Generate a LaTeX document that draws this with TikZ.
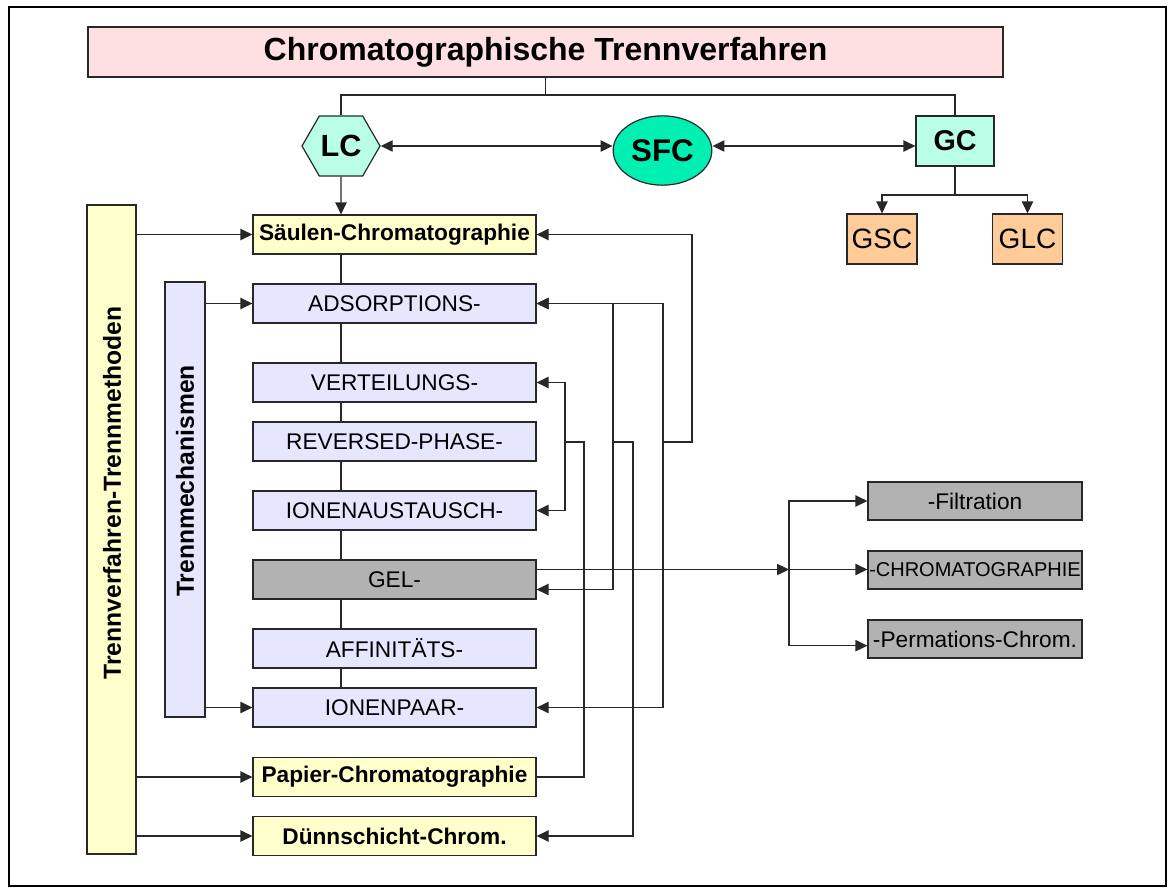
\documentclass[tikz,border=0pt]{standalone}
\usepackage{fontspec}
\setmainfont{Liberation Sans}
\usepackage{tikz}
\usetikzlibrary{arrows.meta,shapes.geometric,shapes.symbols}
\newcommand\fsz[1]{\fontsize{#1}{#1}\selectfont}
\definecolor{node_pink}{RGB}{255,224,226}
\definecolor{node_aqua}{RGB}{185,255,232}
\definecolor{node_green}{RGB}{0,240,180}
\definecolor{node_peach}{RGB}{255,204,153}
\definecolor{node_yell}{RGB}{255,255,204}
\definecolor{node_lila}{RGB}{230,230,255}
\definecolor{node_gray}{RGB}{178,178,178}
\definecolor{edge_gray}{RGB}{40,40,40}

\begin{document}
\begin{tikzpicture}[x=0.75pt,y=-0.75pt,>={Triangle[length=9pt,width=8.5pt]},line width=0.9pt]
    \tikzstyle{box}=[draw=edge_gray,line width=0.9pt,rectangle,inner sep=0pt,text=black]
    \tikzstyle{method}=[style=box,fill=node_yell,minimum width=212.25pt,minimum height=29.25pt,font=\bfseries\fsz{17}]
    \tikzstyle{mech}=[style=box,fill=node_lila,minimum width=212.25pt,minimum height=29.25pt,font=\fsz{17}]
    \tikzstyle{gelbox}=[style=mech,fill=node_gray]
    \tikzstyle{gelsub}=[style=box,fill=node_gray,minimum width=160.5pt,minimum height=28.5pt,font=\fsz{17}]
    \tikzstyle{gctype}=[style=box,fill=node_peach,minimum width=52.5pt,minimum height=37.5pt,font=\fsz{21}]
    \tikzstyle{vlabel}=[rotate=90,font=\bfseries\fsz{18.5},inner sep=0pt]

    \useasboundingbox (0,0) rectangle (1174,892);
    \draw[line width=1.6pt] (9,7) rectangle (1166,886);

    % top row
    \node[box,fill=node_pink,minimum width=686.25pt,minimum height=37.5pt,font=\bfseries\fsz{24}] (title) at (545.5,52) {Chromatographische Trennverfahren};
    \node[draw=edge_gray,fill=node_aqua,shape=signal,signal to=west and east,signal pointer angle=120,
          minimum width=58.5pt,minimum height=45pt,inner sep=0pt,font=\bfseries\fsz{23}] (LC) at (341,146) {LC};
    \node[draw=edge_gray,fill=node_green,ellipse,minimum width=74pt,minimum height=52pt,inner sep=0pt,font=\bfseries\fsz{23.5}] (SFC) at (662.5,150.5) {SFC};
    \node[box,fill=node_aqua,minimum width=58.5pt,minimum height=37.5pt,font=\bfseries\fsz{21.5}] (GC) at (955,141) {GC};
    \node[gctype] (GSC) at (882,239) {GSC};
    \node[gctype] (GLC) at (1027.5,239) {GLC};
    \coordinate (split) at (545.5,95);
    \coordinate (gcsplit) at (955,195);

    % left column
    \node[box,fill=node_yell,minimum width=36.75pt,minimum height=486.75pt] (TV) at (111.5,529.5) {};
    \node[vlabel] (TVtext) at (112,493) {Trennverfahren-Trennmethoden};
    \node[box,fill=node_lila,minimum width=30pt,minimum height=326.25pt] (TM) at (185,499.5) {};
    \node[vlabel] (TMtext) at (185,481) {Trennmechanismen};

    % methods and mechanisms
    \node[method] (saeulen) at (394.5,234.5) {S\"aulen-Chromatographie};
    \node[mech]   (ads)     at (394.5,303.5) {ADSORPTIONS-};
    \node[mech]   (vert)    at (394.5,382.5) {VERTEILUNGS-};
    \node[mech]   (rev)     at (394.5,441.5) {REVERSED-PHASE-};
    \node[mech]   (ion)     at (394.5,510.5) {IONENAUSTAUSCH-};
    \node[gelbox] (gel)     at (394.5,579.5) {GEL-};
    \node[mech]   (aff)     at (394.5,648.5) {AFFINIT\"ATS-};
    \node[mech]   (ionpaar) at (394.5,707.5) {IONENPAAR-};
    \node[method] (papier)  at (394.5,777)   {Papier-Chromatographie};
    \node[method] (duenn)   at (394.5,836)   {D\"unnschicht-Chrom.};

    % gel subtypes
    \node[gelsub] (filt)  at (975,501) {-Filtration};
    \node[gelsub,font=\fsz{15}] (chrom) at (975,570) {-CHROMATOGRAPHIE};
    \node[gelsub] (perm)  at (975,639) {-Permations-Chrom.};
    \coordinate (gelsplit) at (789,569.5);

    % junctions on the right
    \coordinate (j1) at (565,442);
    \coordinate (j2) at (584,442);
    \coordinate (j3) at (613,442);
    \coordinate (j4) at (633,442);
    \coordinate (j5) at (663,442);
    \coordinate (j6) at (692,442);

    \begin{scope}[draw=edge_gray]
    \draw (title) -- (split);
    \draw (LC.north) |- (split) -| (GC.north);
    \draw[<->] (LC.east) -- (LC.east -| SFC.west);
    \draw[<->] (SFC.east |- LC.east) -- (LC.east -| GC.west);
    \draw (GC) -- (gcsplit);
    \draw[->] (gcsplit) -| (GSC);
    \draw[->] (gcsplit) -| (GLC);
    \draw[->] (LC) -- (LC |- saeulen.north);

    \foreach \a/\b in {saeulen/ads,ads/vert,vert/rev,rev/ion,ion/gel,gel/aff,aff/ionpaar}
      \draw (LC |- \a.south) -- (LC |- \b.north);

    \draw[->] (TV.east |- saeulen) -- (saeulen.west);
    \draw[->] (TV.east |- papier) -- (papier.west);
    \draw[->] (TV.east |- duenn) -- (duenn.west);
    \draw[->] (TM.east |- ads) -- (ads.west);
    \draw[->] (TM.east |- ionpaar) -- (ionpaar.west);

    \draw[->] (j1) |- (vert.east);
    \draw[->] (j1) |- (ion.east);
    \draw (papier.east) -| (j2) -- (j1);
    \draw[->] (j3) |- (ads.east);
    \draw[->] (j3) |- ([yshift=-7.5pt]gel.east);
    \draw[->] (j3) -- (j4) |- (duenn.east);
    \draw[->] (j5) |- (ads.east);
    \draw[->] (j5) |- (ionpaar.east);
    \draw[->] (j5) -- (j6) |- (saeulen.east);

    \draw[->] ([yshift=7.5pt]gel.east) -- (gelsplit);
    \draw[->] (gelsplit) |- (filt.west);
    \draw[->] (gelsplit) -- (gelsplit -| chrom.west);
    \draw[->] (gelsplit) |- ([yshift=-5pt]perm.west);
    \end{scope}
\end{tikzpicture}
\end{document}
